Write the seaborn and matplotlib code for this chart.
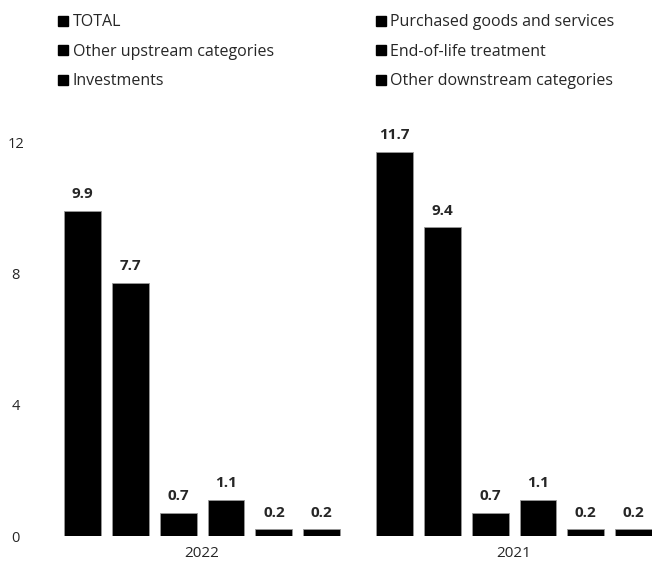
import matplotlib
matplotlib.use('Agg')
import matplotlib.pyplot as plt
import pandas as pd
import seaborn as sns

# Data
years = ['2022', '2021']
categories = ['TOTAL', 'Purchased goods and services', 'Other upstream categories',
              'End-of-life treatment', 'Investments', 'Other downstream categories']
values_2022 = [9.9, 7.7, 0.7, 1.1, 0.2, 0.2]
values_2021 = [11.7, 9.4, 0.7, 1.1, 0.2, 0.2]

df = pd.DataFrame({
    'year': [years[0]] * 6 + [years[1]] * 6,
    'category': categories * 2,
    'value': values_2022 + values_2021,
})

sns.set_style('white')
plt.rcParams['font.family'] = ['Open Sans', 'DejaVu Sans']

fig = plt.figure(figsize=(6.52, 5.64), dpi=100)
ax = fig.add_axes([63 / 652, 28 / 564, 1 - 63 / 652, (536 - 142) / 564])

sns.barplot(data=df, x='year', y='value', hue='category', hue_order=categories,
            order=years, palette=['black'] * 6, edgecolor='#999999', linewidth=0.6,
            width=0.92, gap=0.23, ax=ax, legend=False)

for cont in ax.containers:
    ax.bar_label(cont, fmt='%.1f', padding=7, fontsize=11, fontweight='bold', clip_on=False)

ax.set_xlim(-0.446, 1.442)
ax.set_ylim(0, 12)
ax.set_yticks([0, 4, 8, 12])
ax.tick_params(axis='y', length=2, width=1, pad=32, labelsize=10.5, color='black')
for lab in ax.get_yticklabels():
    lab.set_horizontalalignment('center')
ax.tick_params(axis='x', length=0, pad=7, labelsize=11)
ax.set_xlabel('')
ax.set_ylabel('')
sns.despine(ax=ax, left=True, bottom=True)

# legend
handles = [plt.Rectangle((0, 0), 1, 1, color='black') for _ in categories]
order = [0, 2, 4, 1, 3, 5]
fig.legend([handles[i] for i in order], [categories[i] for i in order],
           loc='upper left', bbox_to_anchor=(44 / 652, 1.0), ncol=2,
           frameon=False, fontsize=11.5, handlelength=0.6, handleheight=0.6,
           handletextpad=0.3, columnspacing=6.4, labelspacing=0.84)

fig.savefig('out.png', dpi=100)
